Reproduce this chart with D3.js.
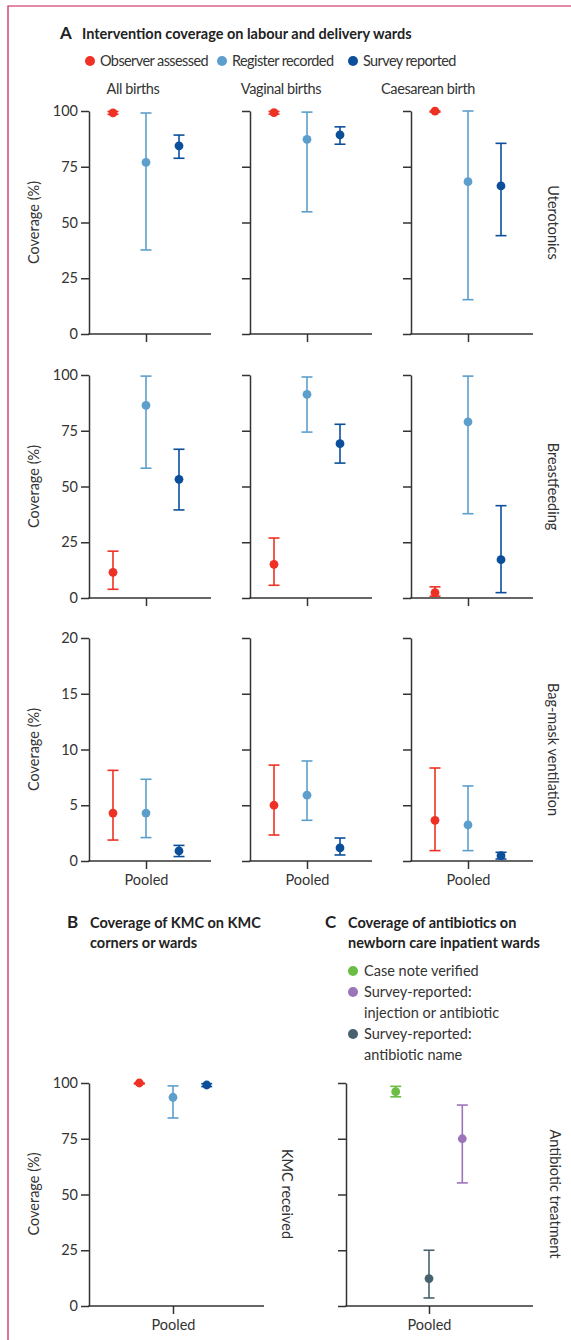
<!DOCTYPE html>
<html>
<head>
<meta charset="utf-8">
<script src="https://cdn.jsdelivr.net/npm/d3@7"></script>
<style>
  body { margin: 0; background: #fff; }
  svg { font-family: Lato, "Noto Sans", sans-serif; }
</style>
</head>
<body>
<div id="chart"></div>
<script>
// ---- data ----
var series = ["Observer assessed", "Register recorded", "Survey reported"];
var columns = ["All births", "Vaginal births", "Caesarean birth"];
var rowsA = ["Uterotonics", "Breastfeeding", "Bag-mask ventilation"];
var rowMax = [100, 100, 20];
var yTicks100 = [0, 25, 50, 75, 100];
var yTicks20 = [0, 5, 10, 15, 20];

// [column][series]
var uteroEst = [[99.2, 77.0, 84.4], [99.3, 87.3, 89.3], [99.9, 68.3, 66.4]];
var uteroLo  = [[98.5, 37.7, 78.8], [98.6, 54.8, 85.1], [99.5, 15.4, 44.1]];
var uteroHi  = [[99.8, 99.1, 89.2], [99.8, 99.5, 92.9], [100, 100, 85.5]];

var breastEst = [[11.5, 86.4, 53.2], [15.1, 91.3, 69.2], [2.4, 79.0, 17.2]];
var breastLo  = [[3.9, 58.2, 39.5], [5.7, 74.4, 60.5], [0.8, 37.8, 2.4]];
var breastHi  = [[21.0, 99.5, 66.7], [26.9, 99.1, 77.9], [5.0, 99.5, 41.4]];

var bagEst = [[4.3, 4.3, 0.9], [5.0, 5.9, 1.17], [3.65, 3.23, 0.48]];
var bagLo  = [[1.88, 2.1, 0.4], [2.33, 3.65, 0.54], [0.93, 0.93, 0.18]];
var bagHi  = [[8.13, 7.33, 1.4], [8.6, 8.97, 2.06], [8.34, 6.73, 0.78]];

var kmcEst = [100, 93.6, 99.1];
var kmcLo  = [99.6, 84.3, 98.4];
var kmcHi  = [100, 98.7, 99.7];

var abSeries = ["Case note verified", "Survey-reported: injection or antibiotic", "Survey-reported: antibiotic name"];
var abLegend = [["Case note verified"], ["Survey-reported:", "injection or antibiotic"], ["Survey-reported:", "antibiotic name"]];
var abOrder = ["Case note verified", "Survey-reported: antibiotic name", "Survey-reported: injection or antibiotic"];
var abEst = [96.1, 75.0, 12.3];
var abLo  = [93.8, 55.2, 3.6];
var abHi  = [98.5, 90.1, 25.0];

// ---- layout ----
var W = 571, H = 1340;
var ink = "#333";
var color = d3.scaleOrdinal().domain(series).range(["#ee3124", "#5d9fcc", "#0b4f9b"]);
var abColor = d3.scaleOrdinal().domain(abSeries).range(["#6cbd45", "#9b74b9", "#47626e"]);

var svg = d3.select("#chart").append("svg")
  .attr("width", W).attr("height", H);

// frame
svg.append("path")
  .attr("d", "M8," + H + "V6H" + W)
  .attr("fill", "none").attr("stroke", "#c8194f").attr("stroke-width", 1.2);

// draws one small panel: y axis, x axis with one "Pooled" tick, error bars
function panel(opt) {
  var g = svg.append("g").attr("transform", "translate(" + opt.x + ",0)");
  var y = d3.scaleLinear().domain([0, opt.max]).range([opt.bottom, opt.top]);
  var pos = d3.scalePoint().domain(opt.order).range([opt.center - opt.spread, opt.center + opt.spread]);
  var pooled = d3.scalePoint().domain(["Pooled"]).range([0, 2 * opt.center]);

  var ya = g.append("g")
    .call(d3.axisLeft(y).tickValues(opt.ticks).tickSize(8).tickSizeOuter(0)
      .tickFormat(opt.labels ? d3.format("d") : ""));
  ya.select(".domain").attr("stroke", ink).attr("stroke-width", 1.5);
  ya.selectAll(".tick line").attr("stroke", ink).attr("stroke-width", 1.5);
  ya.selectAll(".tick text").attr("font-size", 14.5).attr("fill", ink).attr("x", -11)
    .attr("font-family", "Lato, sans-serif");

  var xa = g.append("g").attr("transform", "translate(0," + opt.bottom + ")")
    .call(d3.axisBottom(pooled).tickSize(8).tickSizeOuter(0)
      .tickFormat(opt.pooled ? null : ""));
  xa.select(".domain").remove();
  xa.selectAll(".tick line").attr("stroke", ink).attr("stroke-width", 1.5);
  xa.selectAll(".tick text").attr("font-size", 14.5).attr("fill", ink).attr("dy", "0.9em")
    .attr("font-family", "Lato, sans-serif");
  g.append("line")
    .attr("x1", -0.75).attr("x2", opt.width)
    .attr("y1", opt.bottom).attr("y2", opt.bottom)
    .attr("stroke", ink).attr("stroke-width", 1.5);

  var pts = g.append("g").selectAll("g").data(opt.data).enter().append("g");
  pts.append("line")
    .attr("x1", d => pos(d.s)).attr("x2", d => pos(d.s))
    .attr("y1", d => y(d.lo)).attr("y2", d => y(d.hi))
    .attr("stroke", d => opt.col(d.s)).attr("stroke-width", 1.6);
  pts.append("line")
    .attr("x1", d => pos(d.s) - 5.5).attr("x2", d => pos(d.s) + 5.5)
    .attr("y1", d => y(d.lo)).attr("y2", d => y(d.lo))
    .attr("stroke", d => opt.col(d.s)).attr("stroke-width", 1.6);
  pts.append("line")
    .attr("x1", d => pos(d.s) - 5.5).attr("x2", d => pos(d.s) + 5.5)
    .attr("y1", d => y(d.hi)).attr("y2", d => y(d.hi))
    .attr("stroke", d => opt.col(d.s)).attr("stroke-width", 1.6);
  pts.append("circle")
    .attr("cx", d => pos(d.s)).attr("cy", d => y(d.est))
    .attr("r", 4.4).attr("fill", d => opt.col(d.s));
}

function vlabel(text, x, y, rot) {
  svg.append("text")
    .attr("transform", "translate(" + x + "," + y + ") rotate(" + rot + ")")
    .attr("text-anchor", "middle").attr("dominant-baseline", "central")
    .attr("font-size", 14.5).attr("fill", ink).text(text);
}

// ---- panel A ----
svg.append("text").attr("x", 60).attr("y", 39).attr("font-size", 17).attr("font-weight", 700)
  .attr("fill", "#222").text("A");
svg.append("text").attr("x", 82).attr("y", 39).attr("font-size", 14.5).attr("font-weight", 700)
  .attr("fill", "#222").text("Intervention coverage on labour and delivery wards");

var legA = svg.append("g").selectAll("g").data(series).enter().append("g")
  .attr("transform", (d, i) => "translate(" + [90, 222, 353][i] + ",61)");
legA.append("circle").attr("r", 5).attr("fill", d => color(d));
legA.append("text").attr("x", 10).attr("y", 5).attr("font-size", 14.5)
  .attr("letter-spacing", -0.6).attr("fill", ink).text(d => d);

var colX = [89, 250, 411];
var colTitleX = [133, 281, 428];
var rowTop = [111, 375, 638], rowBottom = [334, 598, 861];
var rowEst = [uteroEst, breastEst, bagEst];
var rowLo = [uteroLo, breastLo, bagLo];
var rowHi = [uteroHi, breastHi, bagHi];

columns.forEach(function (c, ci) {
  svg.append("text").attr("x", colTitleX[ci]).attr("y", 94).attr("text-anchor", "middle")
    .attr("font-size", 14.5).attr("letter-spacing", -0.4).attr("fill", ink).text(c);
});

rowsA.forEach(function (r, ri) {
  columns.forEach(function (c, ci) {
    panel({
      x: colX[ci], top: rowTop[ri], bottom: rowBottom[ri], width: 122,
      center: 57, spread: 33, max: rowMax[ri],
      ticks: rowMax[ri] === 20 ? yTicks20 : yTicks100,
      labels: ci === 0, pooled: ri === 2,
      order: series, col: color,
      data: series.map((s, si) => ({ s: s, est: rowEst[ri][ci][si], lo: rowLo[ri][ci][si], hi: rowHi[ri][ci][si] }))
    });
  });
  vlabel("Coverage (%)", 33, (rowTop[ri] + rowBottom[ri]) / 2, -90);
  vlabel(r, 553, (rowTop[ri] + rowBottom[ri]) / 2, 90);
});

// ---- panel B ----
svg.append("text").attr("x", 67).attr("y", 928).attr("font-size", 17).attr("font-weight", 700)
  .attr("fill", "#222").text("B");
svg.append("text").attr("x", 90).attr("y", 928).attr("font-size", 14.5).attr("font-weight", 700)
  .attr("fill", "#222").text("Coverage of KMC on KMC");
svg.append("text").attr("x", 90).attr("y", 948).attr("font-size", 14.5).attr("font-weight", 700)
  .attr("fill", "#222").text("corners or wards");

panel({
  x: 89, top: 1083, bottom: 1306, width: 175, center: 84, spread: 33.7, max: 100,
  ticks: yTicks100, labels: true, pooled: true, order: series, col: color,
  data: series.map((s, si) => ({ s: s, est: kmcEst[si], lo: kmcLo[si], hi: kmcHi[si] }))
});
vlabel("Coverage (%)", 33, 1194, -90);
vlabel("KMC received", 287, 1194, 90);

// ---- panel C ----
svg.append("text").attr("x", 325).attr("y", 928).attr("font-size", 17).attr("font-weight", 700)
  .attr("fill", "#222").text("C");
svg.append("text").attr("x", 348).attr("y", 928).attr("font-size", 14.5).attr("font-weight", 700)
  .attr("fill", "#222").text("Coverage of antibiotics on");
svg.append("text").attr("x", 348).attr("y", 948).attr("font-size", 14.5).attr("font-weight", 700)
  .attr("fill", "#222").text("newborn care inpatient wards");

var legC = svg.append("g").selectAll("g").data(abSeries).enter().append("g")
  .attr("transform", (d, i) => "translate(353," + [971, 992, 1034][i] + ")");
legC.append("circle").attr("r", 5).attr("fill", d => abColor(d));
legC.append("text").attr("font-size", 14.5).attr("fill", ink)
  .selectAll("tspan").data((d, i) => abLegend[i]).enter().append("tspan")
  .attr("x", 11).attr("y", (d, j) => 5 + j * 21).text(d => d);

panel({
  x: 346, top: 1083, bottom: 1306, width: 187, center: 83, spread: 33.3, max: 100,
  ticks: yTicks100, labels: false, pooled: true, order: abOrder, col: abColor,
  data: abSeries.map((s, si) => ({ s: s, est: abEst[si], lo: abLo[si], hi: abHi[si] }))
});
vlabel("Antibiotic treatment", 555, 1194, 90);
</script>
</body>
</html>
